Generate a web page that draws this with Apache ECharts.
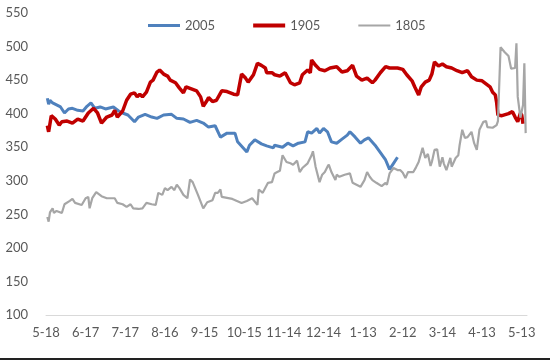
<!DOCTYPE html>
<html>
<head>
<meta charset="utf-8">
<script src="https://cdn.jsdelivr.net/npm/echarts@6/dist/echarts.min.js"></script>
<style>html,body{margin:0;padding:0;background:#fff}#c{width:550px;height:361px}</style>
</head>
<body>
<div id="c"></div>
<script>
// x tick labels (every 30 days starting 5-18)
var tickLabels = ['5-18','6-17','7-17','8-16','9-15','10-15','11-14','12-14','1-13','2-12','3-14','4-13','5-13'];
var seriesNames = ['2005','1905','1805'];

// day offsets from 5-18 and values
var d2005 = [1,2,3,5,11,14,17,20,24,28,31,34,37,41,45,51,55,58,62,67,70,75,80,84,89,95,99,104,109,114,119,123,128,132,137,143,145,152,154,158,163,167,172,173,179,183,187,191,196,198,201,205,207,210,213,216,220,224,228,230,234,238,241,244,249,257,260,263,266];
var v2005 = [423,414,420,416,410,401,407,408,405,404,411,416,408,410,407,410,404,401,398,388,395,399,395,393,398,399,393,392,387,390,386,380,382,365,371,371,358,343,353,361,355,352,349,353,350,356,352,356,358,373,371,378,371,378,373,358,356,362,368,373,365,356,361,364,353,331,317,326,335];

var d1905 = [1,2,4,7,10,12,16,20,24,28,32,36,39,42,46,50,52,54,58,61,64,67,69,71,73,76,79,81,84,86,89,92,94,98,101,104,106,110,114,117,119,122,123,126,129,133,137,142,145,148,151,153,157,160,163,166,167,171,173,177,181,185,188,192,194,198,200,201,204,207,211,215,220,224,228,232,235,239,243,247,249,253,257,260,266,270,273,277,279,282,284,287,290,292,294,297,300,303,307,311,315,319,322,326,330,334,336,338,340,341,342,345,350,353,355,357,359,360,361];
var v1905 = [382,373,397,392,383,388,389,386,392,389,401,408,401,386,395,398,405,395,404,420,429,431,425,429,425,432,447,450,462,465,459,456,450,446,438,431,440,437,434,425,411,420,424,418,420,434,433,429,428,459,453,447,458,475,472,468,461,461,458,456,461,446,443,446,458,465,461,480,472,466,464,468,470,462,464,472,456,450,453,446,450,461,470,468,468,466,458,449,440,428,440,447,450,459,477,471,474,470,468,464,461,464,455,450,449,443,440,432,428,417,398,397,400,403,395,388,401,398,385];

var d1805 = [1,2,3,5,6,8,12,14,18,20,22,27,30,32,33,35,38,39,42,46,50,52,54,58,61,64,66,70,73,76,80,83,85,88,90,92,95,97,99,101,104,107,109,111,115,119,122,126,128,130,132,133,141,148,152,156,157,160,161,164,168,171,173,175,177,179,182,185,187,190,192,194,198,201,202,204,207,209,211,213,214,216,219,220,222,226,230,232,235,238,241,243,245,247,250,251,254,257,258,260,263,266,268,270,272,274,278,280,282,285,287,289,291,292,294,296,298,300,301,303,306,307,310,312,313,315,317,319,322,324,326,328,331,333,334,338,341,342,344,347,350,352,355,356,357,359,361,362,363];
var v1805 = [246,239,253,259,252,255,252,265,270,273,267,264,274,276,259,274,283,284,277,274,274,274,267,265,261,265,259,258,259,267,265,264,282,279,289,286,291,286,294,289,279,274,302,298,279,259,268,271,282,282,287,276,273,267,270,274,276,264,287,282,297,298,311,313,315,338,328,326,324,330,313,319,326,338,344,321,298,309,313,321,324,313,301,309,306,309,311,297,294,291,301,313,306,301,297,297,292,297,294,311,319,316,316,312,304,313,313,320,328,349,334,340,322,328,346,347,321,335,326,316,334,321,334,338,353,376,364,365,373,356,346,376,388,389,380,379,383,389,499,492,486,467,468,505,425,394,413,475,371];

function pairs(d, v) { return d.map(function (x, i) { return [x, v[i]]; }); }

var chart = echarts.init(document.getElementById('c'), null, {renderer: 'canvas'});
var font = 'Lato, "Open Sans", sans-serif';
chart.setOption({
  animation: false,
  backgroundColor: '#ffffff',
  textStyle: {fontFamily: font},
  grid: {left: 46, right: 23, top: 13, bottom: 46, containLabel: false},
  legend: {
    left: 148, top: 19, padding: 0,
    itemWidth: 32, itemHeight: 14, itemGap: 38,
    symbolKeepAspect: true,
    textStyle: {fontFamily: font, fontSize: 13, color: '#595959'},
    data: [
      {name: seriesNames[0], icon: 'path://M0,0H32V3H0Z'},
      {name: seriesNames[1], icon: 'path://M0,0H32V4H0Z'},
      {name: seriesNames[2], icon: 'path://M0,0H32V2H0Z'}
    ]
  },
  xAxis: {
    type: 'value', min: 0, max: 364, interval: 30,
    splitLine: {show: false},
    axisTick: {show: false},
    axisLine: {show: true, lineStyle: {color: '#d9d9d9', width: 1}},
    axisLabel: {
      margin: 11, fontSize: 13, color: '#595959', fontFamily: font,
      formatter: function (v) { return (v % 30 === 0) ? (tickLabels[v / 30] || '') : ''; }
    }
  },
  yAxis: {
    type: 'value', min: 100, max: 550, interval: 50,
    splitLine: {show: false},
    axisTick: {show: false},
    axisLine: {show: false},
    axisLabel: {margin: 18, fontSize: 13, color: '#595959', fontFamily: font}
  },
  graphic: [{type: 'rect', shape: {x: 0, y: 358, width: 550, height: 2}, style: {fill: '#222'}}],
  series: [
    {name: seriesNames[0], type: 'line', symbol: 'none', data: pairs(d2005, v2005),
     lineStyle: {color: '#4F81BD', width: 3}, itemStyle: {color: '#4F81BD'}},
    {name: seriesNames[1], type: 'line', symbol: 'none', data: pairs(d1905, v1905),
     lineStyle: {color: '#C00000', width: 3.5}, itemStyle: {color: '#C00000'}},
    {name: seriesNames[2], type: 'line', symbol: 'none', data: pairs(d1805, v1805),
     lineStyle: {color: '#A6A6A6', width: 2.2}, itemStyle: {color: '#A6A6A6'}}
  ]
});
</script>
</body>
</html>
